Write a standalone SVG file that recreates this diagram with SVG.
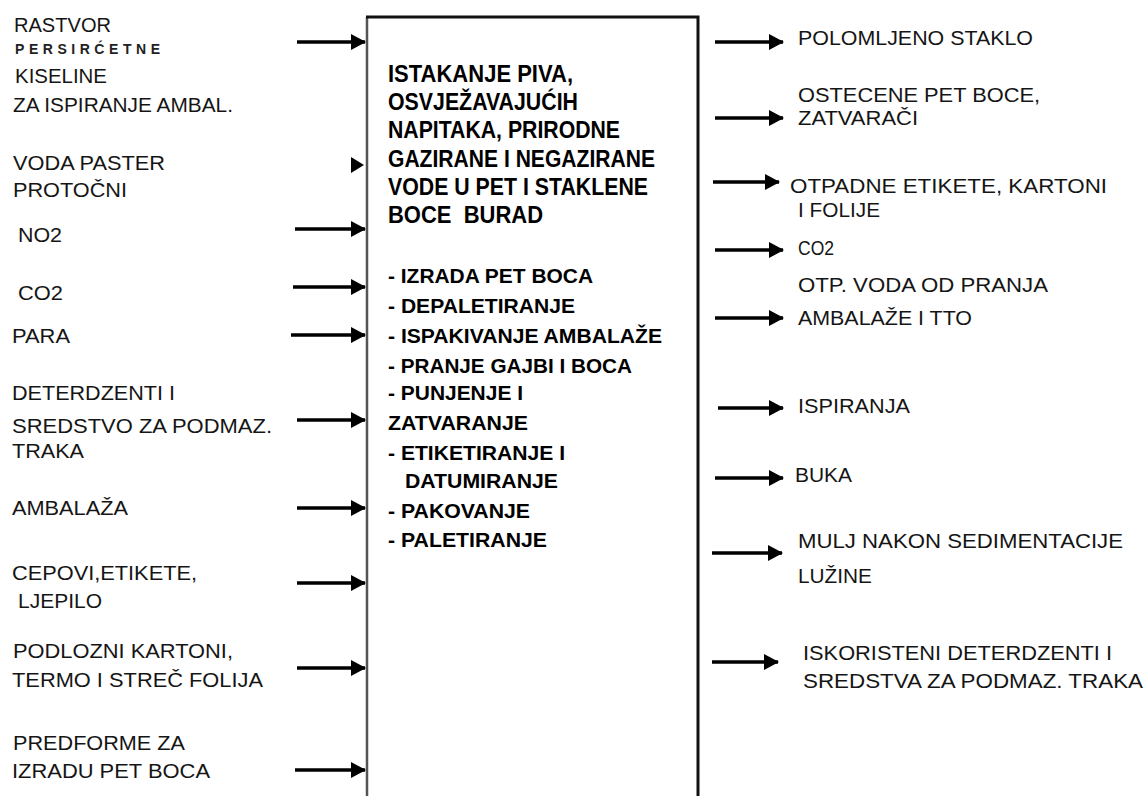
<svg xmlns="http://www.w3.org/2000/svg" width="1145" height="796" viewBox="0 0 1145 796">
<defs>
<style>
.t{font-family:"Liberation Sans",Arial,sans-serif;font-size:20px;fill:#151515}
.s{font-family:"Liberation Sans",Arial,sans-serif;font-size:14px;font-weight:bold;fill:#222}
.b{font-family:"Liberation Sans",Arial,sans-serif;font-size:23px;font-weight:bold;fill:#000}
.l{font-family:"Liberation Sans",Arial,sans-serif;font-size:21px;font-weight:bold;fill:#000}
.a{stroke:#000;stroke-width:3.5;fill:none;marker-end:url(#ah)}
</style>
<marker id="ah" viewBox="0 0 15 16" refX="14" refY="8" markerWidth="15" markerHeight="16" markerUnits="userSpaceOnUse" orient="auto">
<path d="M0,0 L15,8 L0,16 z" fill="#000"/>
</marker>
</defs>
<rect width="1145" height="796" fill="#fff"/>

<g id="process">
<path d="M367,796 V17" stroke="#555" stroke-width="2.5" fill="none"/>
<path d="M366,17 H698 V796" stroke="#111" stroke-width="3" fill="none"/>
<text class="b" x="388" y="82" textLength="185" lengthAdjust="spacingAndGlyphs">ISTAKANJE PIVA,</text>
<text class="b" x="388" y="110" textLength="190" lengthAdjust="spacingAndGlyphs">OSVJEŽAVAJUĆIH</text>
<text class="b" x="388" y="138" textLength="232" lengthAdjust="spacingAndGlyphs">NAPITAKA, PRIRODNE</text>
<text class="b" x="388" y="167" textLength="267" lengthAdjust="spacingAndGlyphs">GAZIRANE I NEGAZIRANE</text>
<text class="b" x="388" y="195" textLength="260" lengthAdjust="spacingAndGlyphs">VODE U PET I STAKLENE</text>
<text class="b" x="388" y="223" textLength="155" lengthAdjust="spacingAndGlyphs" xml:space="preserve">BOCE  BURAD</text>
<text class="l" x="388" y="283" textLength="205" lengthAdjust="spacingAndGlyphs">- IZRADA PET BOCA</text>
<text class="l" x="388" y="313" textLength="187" lengthAdjust="spacingAndGlyphs">- DEPALETIRANJE</text>
<text class="l" x="388" y="343" textLength="274" lengthAdjust="spacingAndGlyphs">- ISPAKIVANJE AMBALAŽE</text>
<text class="l" x="388" y="373" textLength="244" lengthAdjust="spacingAndGlyphs">- PRANJE GAJBI I BOCA</text>
<text class="l" x="388" y="400" textLength="135" lengthAdjust="spacingAndGlyphs">- PUNJENJE I</text>
<text class="l" x="388" y="430" textLength="140" lengthAdjust="spacingAndGlyphs">ZATVARANJE</text>
<text class="l" x="388" y="460" textLength="177" lengthAdjust="spacingAndGlyphs">- ETIKETIRANJE I</text>
<text class="l" x="405" y="488" textLength="153" lengthAdjust="spacingAndGlyphs">DATUMIRANJE</text>
<text class="l" x="388" y="518" textLength="142" lengthAdjust="spacingAndGlyphs">- PAKOVANJE</text>
<text class="l" x="388" y="547" textLength="159" lengthAdjust="spacingAndGlyphs">- PALETIRANJE</text>
</g>

<g id="inputs">
<g id="in-rastvor">
<text class="t" x="14" y="32" textLength="97" lengthAdjust="spacingAndGlyphs">RASTVOR</text>
<text class="s" x="15" y="54" textLength="145" lengthAdjust="spacing">PERSIRĆETNE</text>
<text class="t" x="15" y="83" textLength="92" lengthAdjust="spacingAndGlyphs">KISELINE</text>
<text class="t" x="13" y="112" textLength="220" lengthAdjust="spacingAndGlyphs">ZA ISPIRANJE AMBAL.</text>
</g>
<g id="in-voda">
<text class="t" x="13" y="170" textLength="152" lengthAdjust="spacingAndGlyphs">VODA PASTER</text>
<text class="t" x="13" y="197" textLength="114" lengthAdjust="spacingAndGlyphs">PROTOČNI</text>
</g>
<g id="in-no2"><text class="t" x="18" y="242" textLength="44" lengthAdjust="spacingAndGlyphs">NO2</text></g>
<g id="in-co2"><text class="t" x="18" y="300" textLength="45" lengthAdjust="spacingAndGlyphs">CO2</text></g>
<g id="in-para"><text class="t" x="12" y="343" textLength="58" lengthAdjust="spacingAndGlyphs">PARA</text></g>
<g id="in-deterdzenti">
<text class="t" x="12" y="400" textLength="163" lengthAdjust="spacingAndGlyphs">DETERDZENTI I</text>
<text class="t" x="12" y="433" textLength="260" lengthAdjust="spacingAndGlyphs">SREDSTVO ZA PODMAZ.</text>
<text class="t" x="12" y="458" textLength="72" lengthAdjust="spacingAndGlyphs">TRAKA</text>
</g>
<g id="in-ambalaza"><text class="t" x="12" y="515" textLength="116" lengthAdjust="spacingAndGlyphs">AMBALAŽA</text></g>
<g id="in-cepovi">
<text class="t" x="12" y="580" textLength="185" lengthAdjust="spacingAndGlyphs">CEPOVI,ETIKETE,</text>
<text class="t" x="18" y="608" textLength="84" lengthAdjust="spacingAndGlyphs">LJEPILO</text>
</g>
<g id="in-podlozni">
<text class="t" x="13" y="658" textLength="220" lengthAdjust="spacingAndGlyphs">PODLOZNI KARTONI,</text>
<text class="t" x="12" y="687" textLength="251" lengthAdjust="spacingAndGlyphs">TERMO I STREČ FOLIJA</text>
</g>
<g id="in-predforme">
<text class="t" x="13" y="750" textLength="172" lengthAdjust="spacingAndGlyphs">PREDFORME ZA</text>
<text class="t" x="12" y="778" textLength="198" lengthAdjust="spacingAndGlyphs">IZRADU PET BOCA</text>
</g>
</g>

<g id="outputs">
<g id="out-staklo"><text class="t" x="798" y="45" textLength="235" lengthAdjust="spacingAndGlyphs">POLOMLJENO STAKLO</text></g>
<g id="out-pet">
<text class="t" x="798" y="102" textLength="242" lengthAdjust="spacingAndGlyphs">OSTECENE PET BOCE,</text>
<text class="t" x="798" y="125" textLength="120" lengthAdjust="spacingAndGlyphs">ZATVARAČI</text>
</g>
<g id="out-etikete">
<text class="t" x="790" y="193" textLength="317" lengthAdjust="spacingAndGlyphs">OTPADNE ETIKETE, KARTONI</text>
<text class="t" x="798" y="217" textLength="82" lengthAdjust="spacingAndGlyphs">I FOLIJE</text>
</g>
<g id="out-co2"><text class="t" x="798" y="255" textLength="36" lengthAdjust="spacingAndGlyphs">CO2</text></g>
<g id="out-voda">
<text class="t" x="798" y="292" textLength="250" lengthAdjust="spacingAndGlyphs">OTP. VODA OD PRANJA</text>
<text class="t" x="798" y="325" textLength="174" lengthAdjust="spacingAndGlyphs">AMBALAŽE I TTO</text>
</g>
<g id="out-ispiranja"><text class="t" x="798" y="413" textLength="112" lengthAdjust="spacingAndGlyphs">ISPIRANJA</text></g>
<g id="out-buka"><text class="t" x="795" y="482" textLength="57" lengthAdjust="spacingAndGlyphs">BUKA</text></g>
<g id="out-mulj">
<text class="t" x="798" y="548" textLength="325" lengthAdjust="spacingAndGlyphs">MULJ NAKON SEDIMENTACIJE</text>
<text class="t" x="798" y="583" textLength="74" lengthAdjust="spacingAndGlyphs">LUŽINE</text>
</g>
<g id="out-iskoristeni">
<text class="t" x="803" y="660" textLength="309" lengthAdjust="spacingAndGlyphs">ISKORISTENI DETERDZENTI I</text>
<text class="t" x="803" y="688" textLength="340" lengthAdjust="spacingAndGlyphs">SREDSTVA ZA PODMAZ. TRAKA</text>
</g>
</g>

<g id="connectors">
<line class="a" x1="297" y1="42" x2="365" y2="42"/>
<path d="M351,157 L364,165 L351,173 z" fill="#000"/>
<line class="a" x1="295" y1="229" x2="365" y2="229"/>
<line class="a" x1="293" y1="287" x2="365" y2="287"/>
<line class="a" x1="291" y1="335" x2="365" y2="335"/>
<line class="a" x1="297" y1="420" x2="365" y2="420"/>
<line class="a" x1="297" y1="508" x2="365" y2="508"/>
<line class="a" x1="297" y1="583" x2="365" y2="583"/>
<line class="a" x1="297" y1="668" x2="365" y2="668"/>
<line class="a" x1="295" y1="770" x2="365" y2="770"/>
<line class="a" x1="715" y1="42" x2="783" y2="42"/>
<line class="a" x1="715" y1="118" x2="783" y2="118"/>
<line class="a" x1="713" y1="182" x2="779" y2="182"/>
<line class="a" x1="715" y1="250" x2="783" y2="250"/>
<line class="a" x1="715" y1="318" x2="783" y2="318"/>
<line class="a" x1="718" y1="408" x2="783" y2="408"/>
<line class="a" x1="715" y1="478" x2="783" y2="478"/>
<line class="a" x1="712" y1="553" x2="782" y2="553"/>
<line class="a" x1="712" y1="662" x2="778" y2="662"/>
</g>
</svg>
